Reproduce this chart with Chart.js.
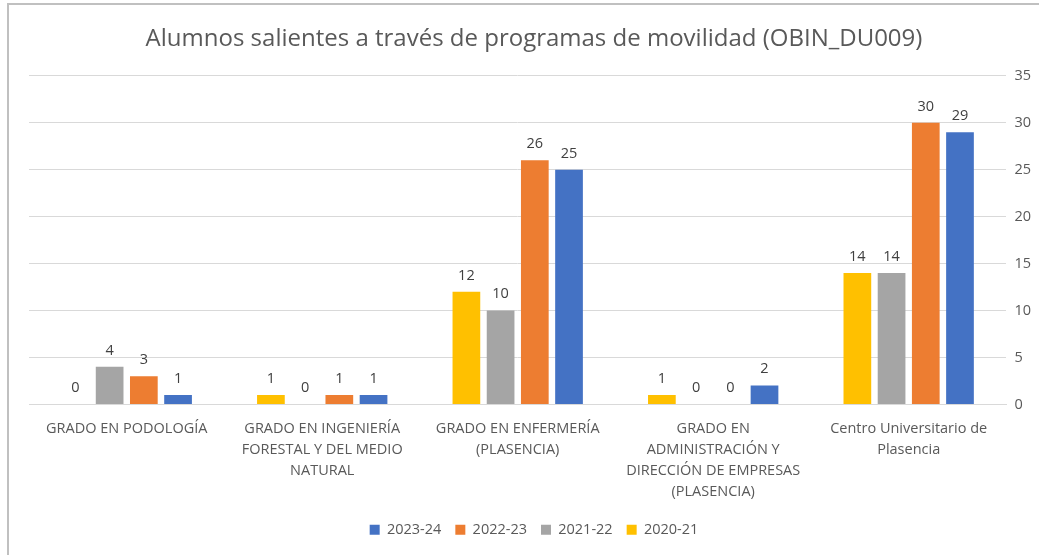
<!DOCTYPE html>
<html>
<head>
<meta charset="utf-8">
<script src="https://cdn.jsdelivr.net/npm/chart.js@4.4.1/dist/chart.umd.min.js"></script>
<style>
    body { margin: 0; background: #fff; }
    .frame {
        position: absolute;
        left: 7px;
        top: 3px;
        width: 1030px;
        height: 550px;
        border-top: 2px solid #c0c0c0;
        border-left: 2px solid #c0c0c0;
    }
    canvas { display: block; }
</style>
</head>
<body>
<div class="frame">
    <canvas id="chart" width="1030" height="550"></canvas>
</div>
<script>
const categories = [
    'GRADO EN PODOLOGÍA',
    ['GRADO EN INGENIERÍA', 'FORESTAL Y DEL MEDIO', 'NATURAL'],
    ['GRADO EN ENFERMERÍA', '(PLASENCIA)'],
    ['GRADO EN', 'ADMINISTRACIÓN Y', 'DIRECCIÓN DE EMPRESAS', '(PLASENCIA)'],
    ['Centro Universitario de', 'Plasencia']
];
const seriesNames = ['2020-21', '2021-22', '2022-23', '2023-24'];
const values2020 = [0, 1, 12, 1, 14];
const values2021 = [4, 0, 10, 0, 14];
const values2022 = [3, 1, 26, 0, 30];
const values2023 = [1, 1, 25, 2, 29];
const seriesColors = ['#FFC000', '#A5A5A5', '#ED7D31', '#4472C4'];

const textColor = '#595959';
const fontFamily = '"Open Sans", sans-serif';

// draws the value above every bar, using the bar elements from the library
const barLabels = {
    id: 'barLabels',
    afterDatasetsDraw(chart) {
        const ctx = chart.ctx;
        ctx.save();
        ctx.fillStyle = '#404040';
        ctx.font = '14.5px ' + fontFamily;
        ctx.textAlign = 'center';
        ctx.textBaseline = 'bottom';
        chart.data.datasets.forEach((ds, i) => {
            chart.getDatasetMeta(i).data.forEach((bar, j) => {
                ctx.fillText(String(ds.data[j]), bar.x, bar.y - 9);
            });
        });
        ctx.restore();
    }
};

const allSeries = [values2020, values2021, values2022, values2023];

new Chart(document.getElementById('chart'), {
    type: 'bar',
    data: {
        labels: categories,
        datasets: allSeries.map((vals, i) => ({
            label: seriesNames[i],
            data: vals,
            backgroundColor: seriesColors[i],
            categoryPercentage: 0.7,
            barPercentage: 0.81
        }))
    },
    options: {
        responsive: false,
        animation: false,
        layout: { padding: { left: 20, right: 0, top: 4, bottom: 8 } },
        plugins: {
            title: {
                display: true,
                text: 'Alumnos salientes a través de programas de movilidad (OBIN_DU009)',
                color: textColor,
                font: { family: fontFamily, size: 24, weight: 'normal' },
                padding: { top: 16, bottom: 22 }
            },
            legend: {
                position: 'bottom',
                reverse: true,
                labels: {
                    color: textColor,
                    font: { family: fontFamily, size: 14.5 },
                    boxWidth: 10,
                    boxHeight: 10,
                    padding: 14
                }
            },
            tooltip: { enabled: false }
        },
        scales: {
            x: {
                grid: { display: false },
                border: { color: '#d9d9d9' },
                ticks: {
                    color: textColor,
                    font: { family: fontFamily, size: 14.5, lineHeight: 1.45 },
                    maxRotation: 0,
                    autoSkip: false,
                    padding: 6
                }
            },
            y: {
                position: 'right',
                min: 0,
                max: 35,
                grid: { color: '#d9d9d9', drawTicks: false },
                border: { display: false },
                ticks: {
                    stepSize: 5,
                    color: textColor,
                    font: { family: fontFamily, size: 14.5 },
                    padding: 8
                }
            }
        }
    },
    plugins: [barLabels]
});
</script>
</body>
</html>
